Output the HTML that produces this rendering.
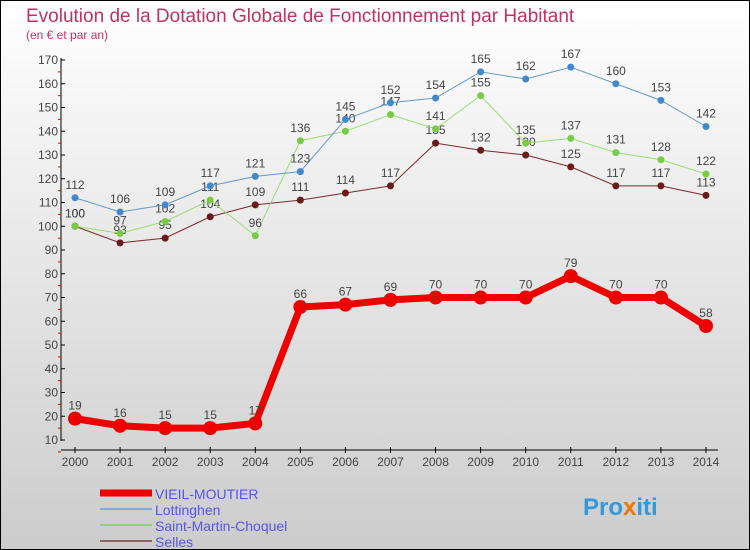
<!DOCTYPE html>
<html><head><meta charset="utf-8"><style>
body{margin:0}
#c{width:750px;height:550px;position:relative;box-sizing:border-box;border:1px solid #000;background:linear-gradient(#fff,#ccc);font-family:"Liberation Sans",sans-serif;overflow:hidden}
</style></head><body>
<div id="c">
<svg id="s" width="750" height="550" style="position:absolute;left:-1px;top:-1px">
<text x="26" y="22" font-size="19" fill="#c0335f">Evolution de la Dotation Globale de Fonctionnement par Habitant</text>
<text x="26" y="39" font-size="12" fill="#c0335f">(en € et par an)</text>
</svg></div>
<script>
const years=[2000,2001,2002,2003,2004,2005,2006,2007,2008,2009,2010,2011,2012,2013,2014];
const yTicks=[10,20,30,40,50,60,70,80,90,100,110,120,130,140,150,160,170];
const vieil=[19,16,15,15,17,66,67,69,70,70,70,79,70,70,58];
const lott=[112,106,109,117,121,123,145,152,154,165,162,167,160,153,142];
const smc=[100,97,102,111,96,136,140,147,141,155,135,137,131,128,122];
const selles=[100,93,95,104,109,111,114,117,135,132,130,125,117,117,113];
const NS="http://www.w3.org/2000/svg",s=document.getElementById('s');
const X=i=>75+i*45.07, Y=v=>440-(v-10)*2.375;
function el(t,a,p){const e=document.createElementNS(NS,t);for(const k in a)e.setAttribute(k,a[k]);(p||s).appendChild(e);return e;}
let e=el('line',{x1:61,y1:58,x2:61,y2:441,stroke:'#000'});


e=el('line',{x1:61,y1:450,x2:718,y2:450,stroke:'#000'});


yTicks.forEach(v=>{const y=Y(v);
 el('line',{x1:61,y1:y,x2:65,y2:y,stroke:'#000'});
 el('line',{x1:58,y1:y+11.9,x2:61,y2:y+11.9,stroke:'#e00'});
 const t=el('text',{x:58,y:y+4,'text-anchor':'end','font-size':12,fill:'#444'});t.textContent=v;
 
 });
years.forEach((yr,i)=>{const x=X(i);
 el('line',{x1:x,y1:447,x2:x,y2:453,stroke:'#000'});
 const t=el('text',{x:x,y:466,'text-anchor':'middle','font-size':12,fill:'#444'});t.textContent=yr;
 
 });
function series(d,col,dot,w,r,name){
 const p=el('polyline',{points:d.map((v,i)=>X(i)+','+Y(v)).join(' '),fill:'none',stroke:col,'stroke-width':w});
 
 
 d.forEach((v,i)=>{const c=el('circle',{cx:X(i),cy:Y(v),r:r,fill:dot});
  
  
  const t=el('text',{x:X(i),y:Y(v)-9,'text-anchor':'middle','font-size':12,fill:'#444'});t.textContent=v;
  
  });
}
series(selles,'#7a2a2a','#6a1a1a',1,3.5,'selles');
series(smc,'#99dd77','#77cc44',1,3.5,'saint-martin-choquel');
series(lott,'#6699cc','#4488cc',1,3.5,'lottinghen');
series(vieil,'#ee0000','#ee0000',7,7,'vieil-moutier');
const leg=[['VIEIL-MOUTIER','#ee0000',7],['Lottinghen','#88aacc',2],['Saint-Martin-Choquel','#99cc88',2],['Selles','#886666',2]];
leg.forEach((l,i)=>{const y=493+i*16;
 const ln=el('line',{x1:100,y1:y,x2:152,y2:y,stroke:l[1],'stroke-width':l[2]});
 
 
 const t=el('text',{x:155,y:y+6,'font-size':14,fill:'#5555ee'});t.textContent=l[0];
 
 });
const lg=el('text',{x:583,y:515,'font-size':24,'font-weight':'bold',fill:'#3399dd'});
lg.innerHTML='Pro<tspan fill="#ee7700">x</tspan>iti';


</script>
</body></html>
